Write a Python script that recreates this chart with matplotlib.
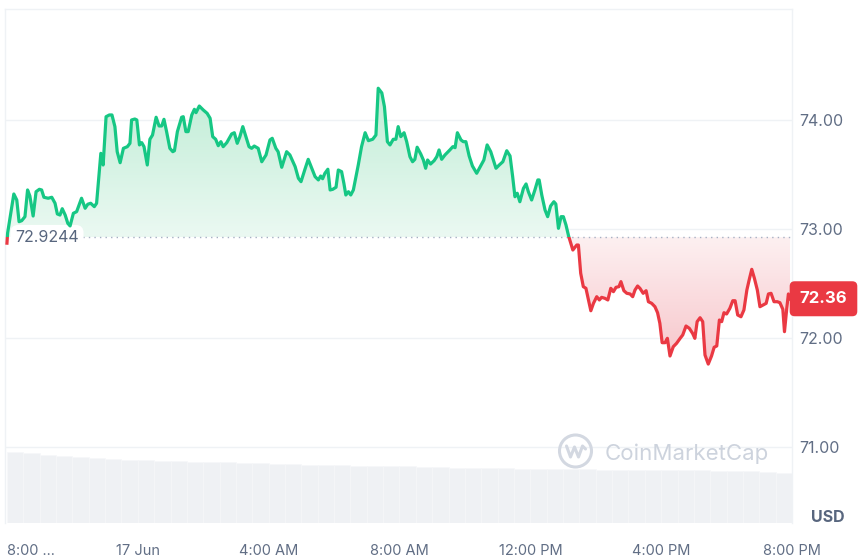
import numpy as np
import matplotlib
matplotlib.use("Agg")
import matplotlib.pyplot as plt
from matplotlib.colors import LinearSegmentedColormap
from matplotlib.patches import Rectangle, Circle
from matplotlib.lines import Line2D
from matplotlib.path import Path
from matplotlib.transforms import IdentityTransform

plt.rcParams["font.family"] = ["Inter", "DejaVu Sans"]

# hours since 8:00 PM (16 Jun), price in USD
hours = [
    0.00, 0.02, 0.21, 0.30, 0.37, 0.45, 0.55, 0.63, 0.70, 0.80, 0.89, 0.99, 1.06, 1.13, 1.26,
    1.37, 1.47, 1.54, 1.62, 1.69, 1.78, 1.86, 1.93, 2.03, 2.13, 2.28, 2.39, 2.47, 2.56, 2.67,
    2.74, 2.87, 2.94, 3.03, 3.13, 3.21, 3.30, 3.37, 3.46, 3.56, 3.68, 3.76, 3.81, 3.91, 3.97,
    4.05, 4.12, 4.19, 4.29, 4.37, 4.45, 4.56, 4.65, 4.73, 4.80, 4.88, 4.98, 5.07, 5.12, 5.21,
    5.34, 5.39, 5.47, 5.54, 5.65, 5.73, 5.78, 5.88, 6.00, 6.12, 6.21, 6.29, 6.38, 6.46, 6.54,
    6.61, 6.72, 6.87, 6.95, 7.04, 7.12, 7.21, 7.30, 7.40, 7.48, 7.56, 7.68, 7.79, 7.92, 8.04,
    8.11, 8.22, 8.29, 8.40, 8.55, 8.65, 8.81, 8.91, 8.99, 9.11, 9.21, 9.32, 9.42, 9.52, 9.59,
    9.65, 9.72, 9.81, 9.88, 9.96, 10.06, 10.13, 10.23, 10.30, 10.36, 10.44, 10.51, 10.59, 10.74, 10.84,
    10.95, 11.05, 11.18, 11.28, 11.35, 11.46, 11.54, 11.63, 11.71, 11.81, 11.89, 11.96, 12.04, 12.14, 12.22,
    12.32, 12.40, 12.47, 12.54, 12.65, 12.73, 12.80, 12.86, 12.95, 13.06, 13.14, 13.21, 13.29, 13.39, 13.54,
    13.63, 13.70, 13.77, 13.88, 13.95, 14.03, 14.13, 14.23, 14.36, 14.46, 14.58, 14.68, 14.79, 14.95, 15.05,
    15.16, 15.28, 15.38, 15.46, 15.53, 15.60, 15.68, 15.79, 15.87, 15.94, 16.04, 16.14, 16.23, 16.27, 16.35,
    16.45, 16.53, 16.62, 16.72, 16.78, 16.86, 16.94, 17.01, 17.09, 17.17, 17.30, 17.42, 17.47, 17.54, 17.62,
    17.70, 17.85, 17.93, 18.03, 18.11, 18.18, 18.28, 18.37, 18.46, 18.54, 18.62, 18.71, 18.77, 18.86, 18.95,
    19.05, 19.13, 19.20, 19.28, 19.35, 19.45, 19.54, 19.61, 19.71, 19.81, 19.89, 19.96, 20.03, 20.12, 20.19,
    20.27, 20.37, 20.47, 20.58, 20.66, 20.76, 20.86, 20.96, 21.03, 21.10, 21.19, 21.27, 21.34, 21.44, 21.54,
    21.62, 21.70, 21.78, 21.85, 21.92, 22.00, 22.10, 22.19, 22.26, 22.34, 22.44, 22.53, 22.62, 22.69, 22.77,
    22.85, 22.94, 23.02, 23.12, 23.21, 23.28, 23.36, 23.45, 23.55, 23.63, 23.72, 23.77, 23.84, 23.89, 23.94,
]
price = [
    72.870, 72.963, 73.321, 73.266, 73.067, 73.076, 73.113, 73.358, 73.303, 73.119, 73.342, 73.364, 73.358, 73.291, 73.282,
    73.291, 73.236, 73.138, 73.128, 73.186, 73.128, 73.052, 73.028, 73.144, 73.159, 73.282, 73.190, 73.227, 73.236, 73.205,
    73.236, 73.694, 73.587, 74.030, 74.046, 74.046, 73.939, 73.709, 73.608, 73.740, 73.755, 73.786, 74.000, 74.009, 74.000,
    73.771, 73.792, 73.755, 73.587, 73.823, 73.862, 74.025, 73.945, 73.945, 74.006, 73.893, 73.740, 73.709, 73.718, 73.893,
    74.025, 74.030, 73.893, 73.893, 74.046, 74.098, 74.067, 74.128, 74.092, 74.061, 74.016, 73.847, 73.823, 73.764, 73.801,
    73.755, 73.792, 73.872, 73.883, 73.786, 73.847, 73.939, 73.853, 73.755, 73.740, 73.761, 73.740, 73.617, 73.679, 73.817,
    73.832, 73.740, 73.709, 73.566, 73.709, 73.679, 73.572, 73.465, 73.434, 73.548, 73.639, 73.557, 73.480, 73.450, 73.486,
    73.461, 73.511, 73.548, 73.358, 73.364, 73.383, 73.541, 73.526, 73.419, 73.312, 73.342, 73.312, 73.358, 73.587, 73.755,
    73.883, 73.810, 73.823, 73.862, 74.291, 74.248, 74.122, 73.801, 73.771, 73.823, 73.823, 73.939, 73.847, 73.883, 73.801,
    73.663, 73.617, 73.639, 73.750, 73.688, 73.633, 73.557, 73.633, 73.596, 73.627, 73.663, 73.725, 73.639, 73.679, 73.725,
    73.755, 73.746, 73.883, 73.817, 73.801, 73.801, 73.670, 73.578, 73.511, 73.566, 73.633, 73.771, 73.709, 73.557, 73.587,
    73.617, 73.718, 73.670, 73.480, 73.296, 73.328, 73.250, 73.373, 73.413, 73.342, 73.266, 73.358, 73.450, 73.450, 73.312,
    73.174, 73.113, 73.211, 73.250, 73.229, 73.006, 73.113, 73.113, 73.037, 72.936, 72.807, 72.853, 72.853, 72.594, 72.471,
    72.456, 72.250, 72.318, 72.379, 72.349, 72.373, 72.364, 72.349, 72.456, 72.425, 72.465, 72.471, 72.517, 72.434, 72.410,
    72.404, 72.379, 72.440, 72.477, 72.456, 72.410, 72.434, 72.333, 72.318, 72.287, 72.232, 72.135, 71.957, 71.957, 71.997,
    71.835, 71.920, 71.951, 71.997, 72.028, 72.110, 72.089, 72.043, 71.997, 72.150, 72.186, 72.150, 71.844, 71.761, 71.835,
    71.915, 71.927, 72.165, 72.150, 72.232, 72.220, 72.272, 72.342, 72.342, 72.211, 72.195, 72.257, 72.440, 72.532, 72.630,
    72.548, 72.440, 72.287, 72.303, 72.318, 72.404, 72.410, 72.333, 72.333, 72.324, 72.263, 72.058, 72.272, 72.404, 72.360,
]
open_price = 72.9244
last_price = 72.36

# rolling volume, one bar per half hour (relative units)
volume = [
    7.1, 7.0, 6.8, 6.7, 6.6, 6.5, 6.4, 6.3, 6.3, 6.2, 6.2, 6.1, 6.1, 6.1, 6.0, 6.0,
    5.9, 5.9, 5.8, 5.8, 5.8, 5.7, 5.7, 5.7, 5.7, 5.6, 5.6, 5.5, 5.5, 5.5, 5.5, 5.4,
    5.4, 5.4, 5.4, 5.4, 5.3, 5.3, 5.3, 5.3, 5.3, 5.3, 5.3, 5.2, 5.2, 5.2, 5.1, 5.0,
]
vol_hours = np.arange(len(volume)) * 0.5

x_ticks = [0, 4, 8, 12, 16, 20, 24]
x_labels = ["8:00 ...", "17 Jun", "4:00 AM", "8:00 AM", "12:00 PM", "4:00 PM", "8:00 PM"]
y_ticks = [71, 72, 73, 74]

GREEN = "#16c784"
RED = "#ea3943"
GRID = "#eff2f5"
LABEL = "#616e85"

W, H = 858, 558
fig = plt.figure(figsize=(W / 100, H / 100), dpi=100)
rect = [5 / W, 1 - 523 / H, 787 / W, 514 / H]
xlim = (-0.06, 24.0)

# volume bars behind the price
axv = fig.add_axes(rect, zorder=0)
axv.bar(vol_hours, volume, width=0.5, align="edge", color="#eff1f4",
        edgecolor="#f6f7f9", linewidth=0.4)
axv.set_xlim(xlim)
axv.set_ylim(0, 51.4)
axv.axis("off")

ax = fig.add_axes(rect, zorder=1)
ax.patch.set_alpha(0)

t = np.array(hours)
p = np.array(price)

# gradient fills above / below the open price
up = ax.fill_between(t, p, open_price, where=p >= open_price, interpolate=True,
                     facecolor="none", edgecolor="none")
dn = ax.fill_between(t, p, open_price, where=p <= open_price, interpolate=True,
                     facecolor="none", edgecolor="none")
grad = np.linspace(0, 1, 256).reshape(-1, 1)
green_cmap = LinearSegmentedColormap.from_list("g", ["#ebf9f2", "#c0edd6"])
red_cmap = LinearSegmentedColormap.from_list("r", ["#f7c5ca", "#fdf0f1"])
img_up = ax.imshow(grad, cmap=green_cmap, origin="lower", aspect="auto",
                   extent=(t[0], t[-1], open_price, p.max()), zorder=1)
img_up.set_clip_path(Path.make_compound_path(*up.get_paths()), ax.transData)
img_dn = ax.imshow(grad, cmap=red_cmap, origin="lower", aspect="auto",
                   extent=(t[0], t[-1], p.min(), open_price), zorder=1)
img_dn.set_clip_path(Path.make_compound_path(*dn.get_paths()), ax.transData)

# price line, green above the open and red below
line_up, = ax.plot(t, p, color=GREEN, lw=2.3, zorder=4, solid_joinstyle="round")
line_up.set_clip_path(Rectangle((xlim[0], open_price), 30, 10, transform=ax.transData))
line_dn, = ax.plot(t, p, color=RED, lw=2.3, zorder=4, solid_joinstyle="round")
line_dn.set_clip_path(Rectangle((xlim[0], open_price - 10), 30, 10, transform=ax.transData))

ax.axhline(open_price, color="#a6b0c3", lw=1, ls=(0, (1, 3)), zorder=2)
ax.text(0.25, open_price, f"{open_price:.4f}", ha="left", va="center", fontsize=11.5,
        color="#58667e", zorder=3,
        bbox=dict(boxstyle="round,pad=0.3,rounding_size=0.5", fc="white", ec="none"))

ax.set_xlim(xlim)
ax.set_ylim(70.303, 75.018)

ax.set_yticks(y_ticks, [f"{v:.2f}" for v in y_ticks])
ax.yaxis.tick_right()
ax.yaxis.grid(True, color=GRID, lw=1)
ax.set_axisbelow(True)
ax.tick_params(axis="y", length=0, pad=5, labelsize=11.5, labelcolor=LABEL)

ax.set_xticks(x_ticks, x_labels)
ax.tick_params(axis="x", length=0, pad=15, labelsize=10.5, labelcolor=LABEL)
ax.get_xticklabels()[0].set_horizontalalignment("left")

ax.spines["bottom"].set_visible(False)
for side in ["top", "left", "right"]:
    ax.spines[side].set_color(GRID)
    ax.spines[side].set_linewidth(1)

# last price tag
ax.text(1.040, last_price, f"{last_price:.2f}", transform=ax.get_yaxis_transform(),
        ha="center", va="center", fontsize=12, weight="bold", color="white",
        clip_on=False, zorder=6,
        bbox=dict(boxstyle="round,pad=0.6,rounding_size=0.3", fc=RED, ec="none"))

fig.text(845 / W, 1 - 517 / H, "USD", ha="right", va="center", fontsize=11.5,
         weight="bold", color="#58667e")

# watermark
fig.patches.append(Circle((575.5, H - 451), 16, transform=IdentityTransform(),
                          fill=False, ec="#d3d8e1", lw=2.2))
fig.lines.append(Line2D([575.5 - 9, 575.5 - 5, 575.5 - 1, 575.5 + 3, 575.5 + 7, 575.5 + 10],
                        [H - 446, H - 457, H - 447, H - 457, H - 446, H - 449],
                        transform=IdentityTransform(), color="#d3d8e1", lw=2.2,
                        solid_joinstyle="round", solid_capstyle="round"))
fig.text(605 / W, 1 - 460 / H, "CoinMarketCap", ha="left", va="baseline",
         fontsize=16, color="#cdd3dd")

fig.savefig("out.png", dpi=100, facecolor="white")
